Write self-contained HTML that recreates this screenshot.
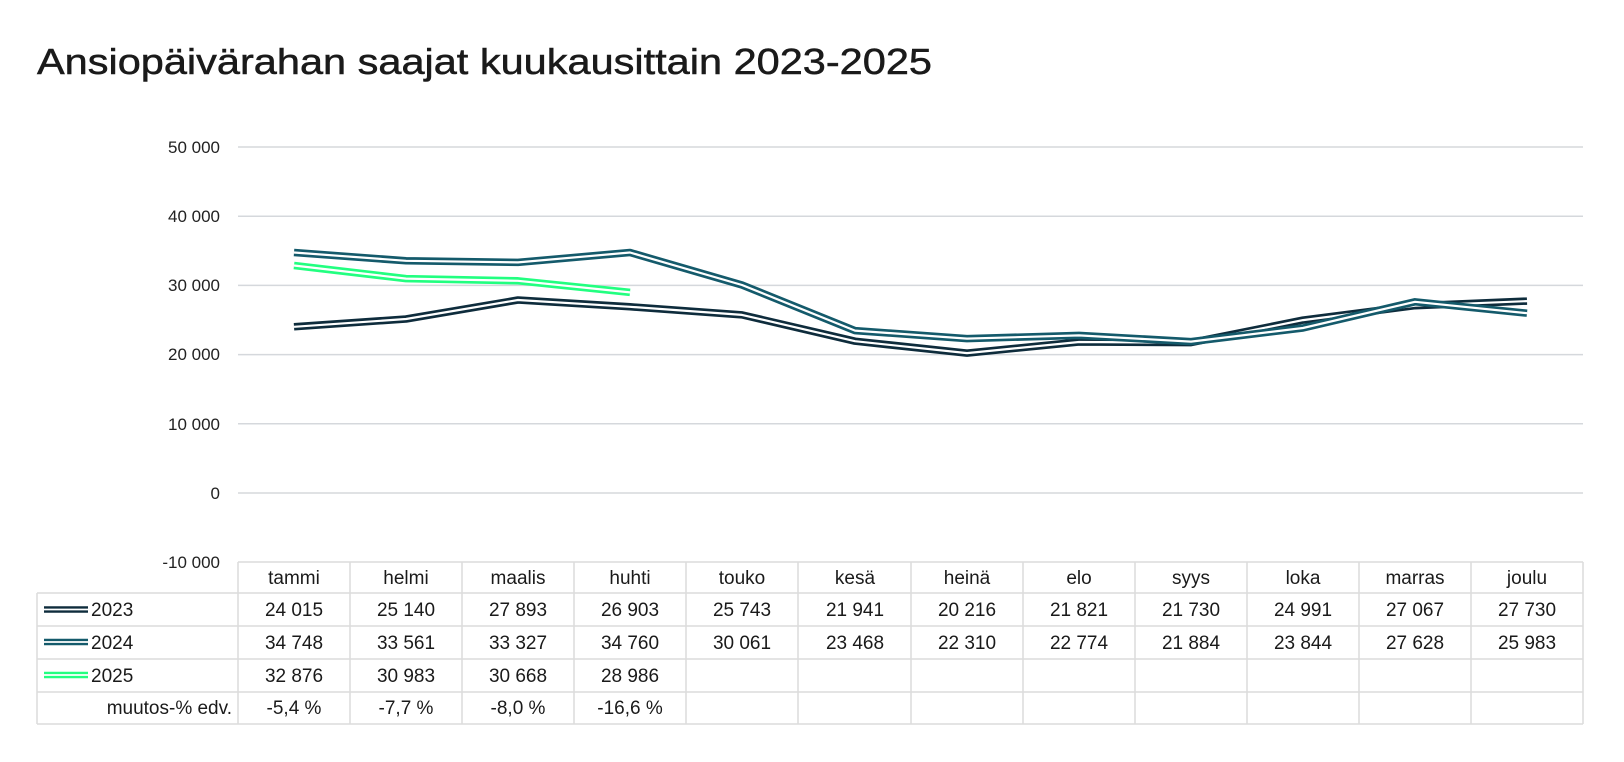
<!DOCTYPE html>
<html><head><meta charset="utf-8"><style>
html,body{margin:0;padding:0;background:#fff;}
svg{display:block;font-family:"Liberation Sans",sans-serif;}
</style></head><body>
<svg width="1624" height="762" viewBox="0 0 1624 762" xmlns="http://www.w3.org/2000/svg">
<text x="37" y="74" font-size="36" fill="#1a1a1a" stroke="#1a1a1a" stroke-width="0.5" textLength="895" lengthAdjust="spacingAndGlyphs">Ansiopäivärahan saajat kuukausittain 2023-2025</text>
<g stroke="#d5d8dc" stroke-width="1.5">
<line x1="238" x2="1583" y1="147" y2="147"/>
<line x1="238" x2="1583" y1="216.2" y2="216.2"/>
<line x1="238" x2="1583" y1="285.4" y2="285.4"/>
<line x1="238" x2="1583" y1="354.6" y2="354.6"/>
<line x1="238" x2="1583" y1="423.8" y2="423.8"/>
<line x1="238" x2="1583" y1="493" y2="493"/>
</g>
<g font-size="17" fill="#222" text-anchor="end">
<text x="220" y="153">50 000</text>
<text x="220" y="222">40 000</text>
<text x="220" y="291">30 000</text>
<text x="220" y="360">20 000</text>
<text x="220" y="430">10 000</text>
<text x="220" y="499">0</text>
<text x="220" y="568">-10 000</text>
</g>
<g fill="none" stroke-linejoin="round">
<polyline stroke="#0e2c3c" stroke-width="7.5" points="294,326.8 406,319 518,300 630,306.8 742,314.9 855,341.2 967,353.1 1079,342 1191,342.6 1303,320.1 1415,305.7 1527,301.1"/>
<polyline stroke="#fff" stroke-width="2.2" points="294,326.8 406,319 518,300 630,306.8 742,314.9 855,341.2 967,353.1 1079,342 1191,342.6 1303,320.1 1415,305.7 1527,301.1"/>
<polyline stroke="#145a6b" stroke-width="7.5" points="294,252.5 406,260.8 518,262.4 630,252.5 742,285 855,330.6 967,338.6 1079,335.4 1191,341.6 1303,328 1415,301.8 1527,313.2"/>
<polyline stroke="#fff" stroke-width="2.2" points="294,252.5 406,260.8 518,262.4 630,252.5 742,285 855,330.6 967,338.6 1079,335.4 1191,341.6 1303,328 1415,301.8 1527,313.2"/>
<polyline stroke="#22ff80" stroke-width="7.5" points="294,265.5 406,278.6 518,280.8 630,292.4"/>
<polyline stroke="#fff" stroke-width="2.2" points="294,265.5 406,278.6 518,280.8 630,292.4"/>
</g>
<g stroke="#dcdcdc" stroke-width="1.5" fill="none">
<line x1="238" x2="1583" y1="562" y2="562"/>
<line x1="37" x2="1583" y1="593" y2="593"/>
<line x1="37" x2="1583" y1="626" y2="626"/>
<line x1="37" x2="1583" y1="659" y2="659"/>
<line x1="37" x2="1583" y1="692" y2="692"/>
<line x1="37" x2="1583" y1="724" y2="724"/>
<line x1="37" x2="37" y1="593" y2="724"/>
<line x1="238" x2="238" y1="562" y2="724"/>
<line x1="350" x2="350" y1="562" y2="724"/>
<line x1="462" x2="462" y1="562" y2="724"/>
<line x1="574" x2="574" y1="562" y2="724"/>
<line x1="686" x2="686" y1="562" y2="724"/>
<line x1="798" x2="798" y1="562" y2="724"/>
<line x1="911" x2="911" y1="562" y2="724"/>
<line x1="1023" x2="1023" y1="562" y2="724"/>
<line x1="1135" x2="1135" y1="562" y2="724"/>
<line x1="1247" x2="1247" y1="562" y2="724"/>
<line x1="1359" x2="1359" y1="562" y2="724"/>
<line x1="1471" x2="1471" y1="562" y2="724"/>
<line x1="1583" x2="1583" y1="562" y2="724"/>
</g>
<g>
<line x1="44" x2="88" y1="609.5" y2="609.5" stroke="#0e2c3c" stroke-width="6.5"/><line x1="44" x2="88" y1="609.5" y2="609.5" stroke="#fff" stroke-width="1.8"/>
<line x1="44" x2="88" y1="642" y2="642" stroke="#145a6b" stroke-width="6.5"/><line x1="44" x2="88" y1="642" y2="642" stroke="#fff" stroke-width="1.8"/>
<line x1="44" x2="88" y1="675" y2="675" stroke="#22ff80" stroke-width="6.5"/><line x1="44" x2="88" y1="675" y2="675" stroke="#fff" stroke-width="1.8"/>
</g>
<g font-size="19" fill="#1a1a1a">
<text x="91" y="616">2023</text>
<text x="91" y="649">2024</text>
<text x="91" y="682">2025</text>
<text x="232" y="714" text-anchor="end">muutos-% edv.</text>
</g>
<g font-size="19" fill="#1a1a1a" text-anchor="middle">
<text x="294" y="584">tammi</text><text x="406" y="584">helmi</text><text x="518" y="584">maalis</text><text x="630" y="584">huhti</text><text x="742" y="584">touko</text><text x="855" y="584">kesä</text><text x="967" y="584">heinä</text><text x="1079" y="584">elo</text><text x="1191" y="584">syys</text><text x="1303" y="584">loka</text><text x="1415" y="584">marras</text><text x="1527" y="584">joulu</text>
<text x="294" y="616">24 015</text><text x="406" y="616">25 140</text><text x="518" y="616">27 893</text><text x="630" y="616">26 903</text><text x="742" y="616">25 743</text><text x="855" y="616">21 941</text><text x="967" y="616">20 216</text><text x="1079" y="616">21 821</text><text x="1191" y="616">21 730</text><text x="1303" y="616">24 991</text><text x="1415" y="616">27 067</text><text x="1527" y="616">27 730</text>
<text x="294" y="649">34 748</text><text x="406" y="649">33 561</text><text x="518" y="649">33 327</text><text x="630" y="649">34 760</text><text x="742" y="649">30 061</text><text x="855" y="649">23 468</text><text x="967" y="649">22 310</text><text x="1079" y="649">22 774</text><text x="1191" y="649">21 884</text><text x="1303" y="649">23 844</text><text x="1415" y="649">27 628</text><text x="1527" y="649">25 983</text>
<text x="294" y="682">32 876</text><text x="406" y="682">30 983</text><text x="518" y="682">30 668</text><text x="630" y="682">28 986</text>
<text x="294" y="714">-5,4 %</text><text x="406" y="714">-7,7 %</text><text x="518" y="714">-8,0 %</text><text x="630" y="714">-16,6 %</text>
</g>
</svg>
</body></html>
